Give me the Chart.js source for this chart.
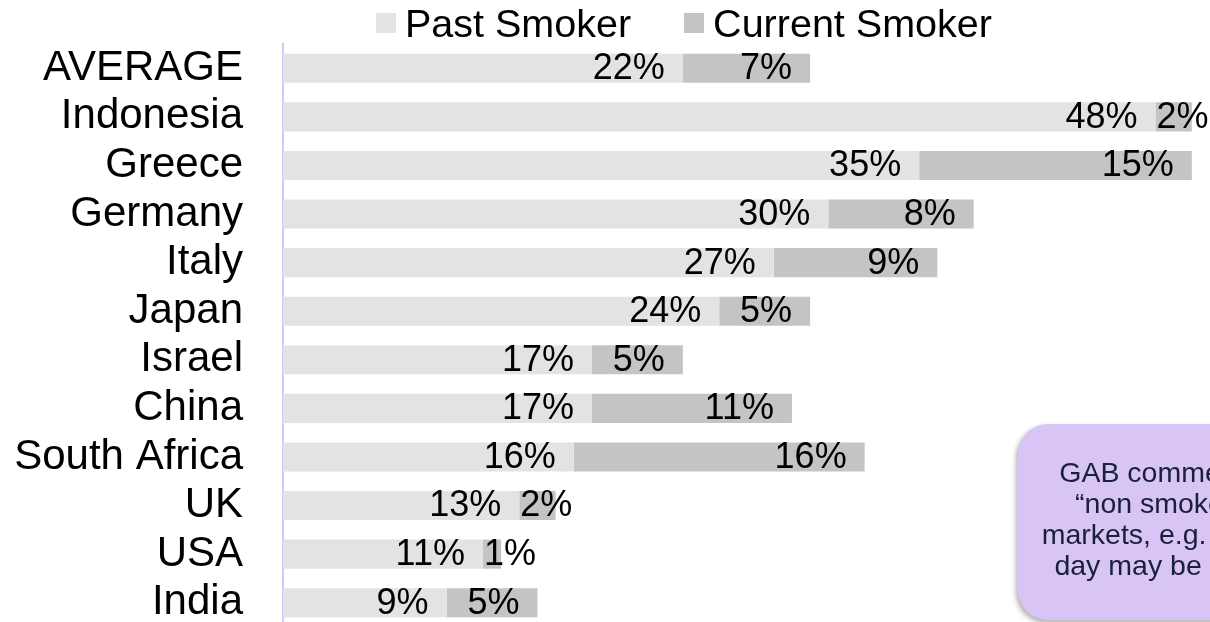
<!DOCTYPE html>
<html>
<head>
<meta charset="utf-8">
<script src="https://cdn.jsdelivr.net/npm/chart.js@4.4.1/dist/chart.umd.min.js"></script>
<style>
  html, body { margin: 0; padding: 0; width: 1210px; height: 622px; overflow: hidden; background: #fff; }
  body { font-family: 'Liberation Sans', Arial, sans-serif; }
  #wrap { position: relative; width: 1210px; height: 622px; overflow: hidden; }
  #chart { position: absolute; left: 0; top: 0; }
  #legend { position: absolute; left: 376px; top: 1px; display: flex; gap: 53px; }
  .item { display: flex; align-items: flex-start; gap: 9px; font-size: 39.5px; line-height: 44px; color: #000; white-space: nowrap; }
  .item .box { width: 20px; height: 20px; margin-top: 12px; }
  .note {
    position: absolute; left: 1018px; top: 424px; width: 282px; height: 196px;
    box-sizing: border-box; padding-top: 33px;
    background: #d8c5f6; border-radius: 30px;
    box-shadow: -2px 3px 5px rgba(0, 0, 0, 0.3);
    color: #19203a; font-size: 28.5px; line-height: 31px; text-align: center; white-space: nowrap;
  }
</style>
</head>
<body>
<div id="wrap">
  <canvas id="chart" width="1210" height="627"></canvas>
  <div id="legend"></div>
  <div class="note">GAB comments<br>“non smoker”<br>markets, e.g. India<br>day may be high</div>
</div>
<script>
'use strict';

const categories = ['AVERAGE', 'Indonesia', 'Greece', 'Germany', 'Italy', 'Japan', 'Israel', 'China', 'South Africa', 'UK', 'USA', 'India'];
const pastSmoker = [22, 48, 35, 30, 27, 24, 17, 17, 16, 13, 11, 9];
const currentSmoker = [7, 2, 15, 8, 9, 5, 5, 11, 16, 2, 1, 5];
const seriesNames = ['Past Smoker', 'Current Smoker'];
const seriesColors = ['#e3e3e3', '#c4c4c4'];

const FONT = "'Liberation Sans', Arial, sans-serif";

// legend above the plot
const legend = document.getElementById('legend');
seriesNames.forEach(function (name, i) {
    const item = document.createElement('div');
    item.className = 'item';
    item.innerHTML = `<span class="box" style="background:${seriesColors[i]}"></span><span>${name}</span>`;
    legend.appendChild(item);
});

// percent labels at the inner end of each segment;
// labels wider than their segment start at the segment's left edge
const valueLabels = {
    id: 'valueLabels',
    afterDatasetsDraw(chart) {
        const ctx = chart.ctx;
        const pad = 18;
        ctx.save();
        ctx.font = '36px ' + FONT;
        ctx.fillStyle = '#000';
        ctx.textBaseline = 'middle';
        chart.data.datasets.forEach(function (ds, di) {
            chart.getDatasetMeta(di).data.forEach(function (bar, i) {
                const text = ds.data[i] + '%';
                const w = ctx.measureText(text).width;
                const left = Math.min(bar.base, bar.x);
                const right = Math.max(bar.base, bar.x);
                if (w + pad * 2 <= right - left) {
                    ctx.textAlign = 'right';
                    ctx.fillText(text, right - pad, bar.y + 1);
                } else {
                    ctx.textAlign = 'left';
                    ctx.fillText(text, left + 1, bar.y + 1);
                }
            });
        });
        ctx.restore();
    }
};

new Chart(document.getElementById('chart').getContext('2d'), {
    type: 'bar',
    data: {
        labels: categories,
        datasets: [
            { label: seriesNames[0], data: pastSmoker, backgroundColor: seriesColors[0] },
            { label: seriesNames[1], data: currentSmoker, backgroundColor: seriesColors[1] }
        ]
    },
    options: {
        indexAxis: 'y',
        responsive: false,
        maintainAspectRatio: false,
        animation: false,
        devicePixelRatio: 1,
        layout: { padding: { top: 44, right: 0, bottom: 0, left: 0 } },
        datasets: { bar: { categoryPercentage: 1, barPercentage: 0.6, borderWidth: 0 } },
        plugins: { legend: { display: false }, tooltip: { enabled: false } },
        scales: {
            x: { stacked: true, display: false, min: 0, max: 51 },
            y: {
                stacked: true,
                grid: { display: false, drawTicks: false },
                border: { display: true, color: '#c9cff1', width: 2 },
                ticks: { autoSkip: false, color: '#000', padding: 40, font: { size: 42, family: FONT } },
                afterFit(scale) {
                    // fixed gutter for the country names; no extra room above/below
                    scale.width = 283;
                    scale.paddingTop = 0;
                    scale.paddingBottom = 0;
                }
            }
        }
    },
    plugins: [valueLabels]
});
</script>
</body>
</html>
